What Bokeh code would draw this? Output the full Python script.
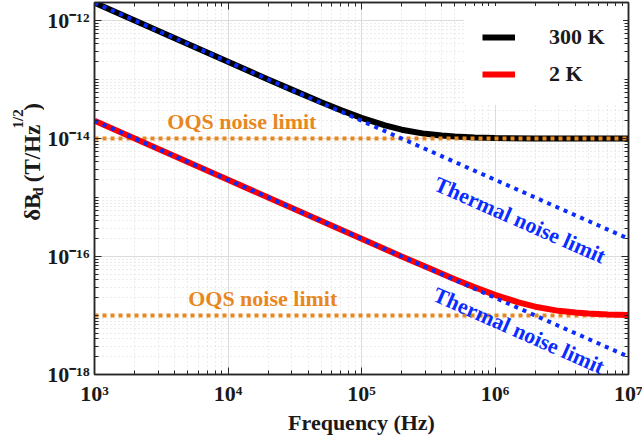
import math
from bokeh.plotting import figure
from bokeh.layouts import row
from bokeh.models import (LogAxis, FixedTicker, Label, Legend, LegendItem, Range1d)
from bokeh.core.properties import value
from bokeh.embed import file_html
from bokeh.resources import INLINE

# ---- data ----
freq_300 = [1e3, 2e3, 5e3, 1e4, 2e4, 3e4, 5e4, 7e4, 1e5, 1.5e5, 2e5, 3e5, 4e5, 5e5, 7e5, 1e6, 2e6, 5e6, 1e7]
noise_300 = [2.0e-12, 1.0e-12, 4.0e-13, 2.0e-13, 1.0e-13, 6.74e-14, 4.12e-14, 3.03e-14, 2.24e-14,
             1.67e-14, 1.41e-14, 1.20e-14, 1.12e-14, 1.08e-14, 1.04e-14, 1.02e-14, 1.005e-14, 1.0e-14, 1.0e-14]
freq_2 = [1e3, 1e4, 1e5, 2e5, 3e5, 5e5, 7e5, 1e6, 1.5e6, 2e6, 3e6, 4e6, 5e6, 7e6, 1e7]
noise_2 = [2.0e-14, 2.0e-15, 2.0e-16, 1.0e-16, 6.74e-17, 4.12e-17, 3.03e-17, 2.24e-17,
           1.67e-17, 1.41e-17, 1.20e-17, 1.12e-17, 1.08e-17, 1.04e-17, 1.02e-17]
limit_freq = [1e3, 1e7]
thermal_300 = [2.0e-12, 2.0e-16]
thermal_2 = [2.0e-14, 2.0e-18]
oqs_300 = [1e-14, 1e-14]
oqs_2 = [1e-17, 1e-17]

x_major = [1e3, 1e4, 1e5, 1e6, 1e7]
x_labels = ["10³", "10⁴", "10⁵", "10⁶", "10⁷"]
y_major = [1e-18, 1e-16, 1e-14, 1e-12]
y_labels = ["10⁻¹⁸", "10⁻¹⁶", "10⁻¹⁴", "10⁻¹²"]

x_minor = [m * 10.0 ** k for k in range(3, 7) for m in range(2, 10)]
y_minor = [m * 10.0 ** k for k in range(-18, -12) for m in range(1, 10) if not (m == 1 and k % 2 == 0)]

FONT = "Liberation Serif"
DARK = "#262626"
TXT = "#1a1a1a"
ORANGE = "#e8871e"
BLUE = "#0a2cff"

LW = 44  # width of the strip that carries the y-axis title
p = figure(width=642 - LW, height=443, x_axis_type="log", y_axis_type="log",
           x_range=Range1d(1e3, 1e7), y_range=Range1d(1e-18, 2.02e-12),
           output_backend="svg", toolbar_location=None,
           min_border_left=93 - LW, min_border_right=14, min_border_top=2, min_border_bottom=69)
p.background_fill_color = "white"
p.border_fill_color = "white"
p.outline_line_color = DARK
p.outline_line_width = 1.5

xt = FixedTicker(ticks=x_major, minor_ticks=x_minor)
yt = FixedTicker(ticks=y_major, minor_ticks=y_minor)

for ax, t in ((p.xaxis[0], xt), (p.yaxis[0], yt)):
    ax.ticker = t
    ax.major_tick_in = 7
    ax.major_tick_out = 0
    ax.minor_tick_in = 4
    ax.minor_tick_out = 0
    ax.axis_line_color = DARK
    ax.axis_line_width = 1.5
    ax.major_tick_line_color = DARK
    ax.minor_tick_line_color = DARK
    ax.major_label_text_font = FONT
    ax.major_label_text_font_style = "bold"
    ax.major_label_text_font_size = "22px"
    ax.major_label_text_color = TXT

p.xaxis[0].major_label_overrides = {v: s for v, s in zip(x_major, x_labels)}
p.yaxis[0].major_label_overrides = {v: s for v, s in zip(y_major, y_labels)}
p.xaxis[0].major_label_standoff = 6
p.yaxis[0].major_label_standoff = 5
p.xaxis[0].axis_label = "Frequency (Hz)"
p.xaxis[0].axis_label_text_font = FONT
p.xaxis[0].axis_label_text_font_style = "bold"
p.xaxis[0].axis_label_text_font_size = "22px"
p.xaxis[0].axis_label_text_color = TXT
p.xaxis[0].axis_label_standoff = 1

for loc, t in (("right", yt), ("above", xt)):
    a = LogAxis(ticker=t, major_tick_in=7, major_tick_out=0, minor_tick_in=4, minor_tick_out=0,
                axis_line_color=DARK, axis_line_width=1.5, major_tick_line_color=DARK,
                minor_tick_line_color=DARK, major_label_text_font_size="1px",
                major_label_text_alpha=0, major_label_standoff=0)
    p.add_layout(a, loc)

for g, t in ((p.xgrid[0], xt), (p.ygrid[0], yt)):
    g.ticker = t
    g.grid_line_color = "#dcdcdc"
    g.grid_line_width = 1
    g.minor_grid_line_color = "#d8d8d8"
    g.minor_grid_line_dash = "1 3"
    g.minor_grid_line_width = 1

r300 = p.line(freq_300, noise_300, line_color="black", line_width=6)
p.line(limit_freq, oqs_300, line_color=ORANGE, line_width=4, line_dash="4 4")
p.line(limit_freq, thermal_300, line_color=BLUE, line_width=4, line_dash="4 5")
p.line(limit_freq, oqs_2, line_color=ORANGE, line_width=4, line_dash="4 4")
r2 = p.line(freq_2, noise_2, line_color="red", line_width=6)
p.line(limit_freq, thermal_2, line_color=BLUE, line_width=4, line_dash="4 5")

def lab(x, y, text, color, angle=0.0):
    p.add_layout(Label(x=x, y=y, text=text, text_color=color,
                       text_font=FONT, text_font_style="bold", text_font_size="22px",
                       angle=angle, text_align="center", text_baseline="alphabetic"))

lab(1.27e4, 1.93e-14, "OQS noise limit", ORANGE)
lab(1.82e4, 1.95e-17, "OQS noise limit", ORANGE)
ang = -math.atan(59.0 / 134.0)
lab(1.54e6, 4.16e-16, "Thermal noise limit", BLUE, angle=ang)
lab(1.51e6, 5.57e-18, "Thermal noise limit", BLUE, angle=ang)

legend = Legend(items=[LegendItem(label="300 K", renderers=[r300]), LegendItem(label="2 K", renderers=[r2])],
                location=(370, 269), margin=0, padding=18, spacing=11,
                glyph_width=33, glyph_height=20, label_height=20, label_standoff=34,
                label_text_font=FONT, label_text_font_style="bold", label_text_font_size="22px",
                label_text_color=TXT, background_fill_color="white", background_fill_alpha=1.0,
                border_line_alpha=0)
p.add_layout(legend)

# ---- y-axis title strip (pixel coordinates, y down) ----
lf = figure(width=LW, height=443, x_range=Range1d(0, LW), y_range=Range1d(443, 0),
            x_axis_location=None, y_axis_location=None, output_backend="svg", toolbar_location=None,
            min_border=0)
lf.grid.visible = False
lf.outline_line_color = None
lf.background_fill_color = "white"
lf.border_fill_color = "white"

def ylab(x, y, text, size):
    lf.text(x=[x], y=[y], text=[text], angle=math.pi / 2, text_color=TXT,
            text_font=value(FONT), text_font_style="bold", text_font_size=value(size),
            text_align="left", text_baseline="alphabetic")

ylab(32, 260, "δB", "23px")
ylab(37, 230, "d", "15px")
ylab(32, 214, "(T/Hz", "23px")
ylab(17, 150, "1/2", "15px")
ylab(32, 129, ")", "23px")

layout = row(lf, p, spacing=0)
open("out.html", "w").write(file_html(layout, INLINE))
